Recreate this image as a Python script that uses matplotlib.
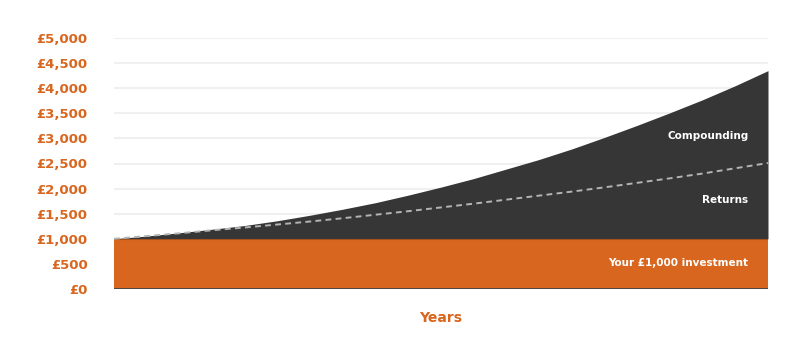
import numpy as np
import matplotlib
matplotlib.use("Agg")
import matplotlib.pyplot as plt
from matplotlib.ticker import FuncFormatter

# values (years 0..20)
years = list(range(21))
investment = [1000] * 21
compound = [1000, 1055, 1120, 1190, 1265, 1360, 1470, 1590, 1720, 1870, 2030,
            2200, 2390, 2580, 2790, 3020, 3260, 3510, 3770, 4050, 4350]
simple = [1000, 1055, 1110, 1170, 1225, 1285, 1345, 1410, 1480, 1550, 1625,
          1700, 1780, 1860, 1940, 2025, 2115, 2205, 2300, 2405, 2510]
yticks = list(range(0, 5001, 500))

orange = "#d8661e"
dark = "#363636"

fig = plt.figure(figsize=(8.0, 3.53), dpi=100)
ax = fig.add_axes([114/800, 1-289/353, (768-114)/800, (289-38)/353])

ax.fill_between(years, 0, investment, color=orange, lw=0, zorder=2)
ax.fill_between(years, investment, compound, color=dark, lw=0, zorder=2)
ax.plot(years, investment, color="#a4521a", lw=0.8, zorder=3)
ax.plot(years, simple, color="#b4b4b4", lw=1.4, dashes=(3, 2.2), zorder=4)
ax.axhline(0, color="#444444", lw=2, zorder=5)

ax.set_xlim(0, 20)
ax.set_ylim(0, 5000)
ax.set_yticks(yticks)
ax.yaxis.set_major_formatter(FuncFormatter(lambda v, p: "£{:,.0f}".format(v)))
ax.set_xticks([])
ax.grid(axis="y", color="#f0f0f0", lw=1.5, zorder=0)
ax.set_axisbelow(True)
for s in ax.spines.values():
    s.set_visible(False)
ax.tick_params(axis="y", length=0, pad=19, labelcolor=orange, labelsize=9.5)
for t in ax.get_yticklabels():
    t.set_fontweight("bold")

ax.set_xlabel("Years", color=orange, fontsize=10, fontweight="bold", labelpad=16)

tx = 19.4
ax.text(tx, 3040, "Compounding", color="white", fontsize=7.5, fontweight="bold",
        ha="right", va="center", zorder=6)
ax.text(tx, 1767, "Returns", color="white", fontsize=7.5, fontweight="bold",
        ha="right", va="center", zorder=6)
ax.text(tx, 520, "Your £1,000 investment", color="white", fontsize=7.5,
        fontweight="bold", ha="right", va="center", zorder=6)

fig.savefig("out.png", dpi=100, facecolor="white")
